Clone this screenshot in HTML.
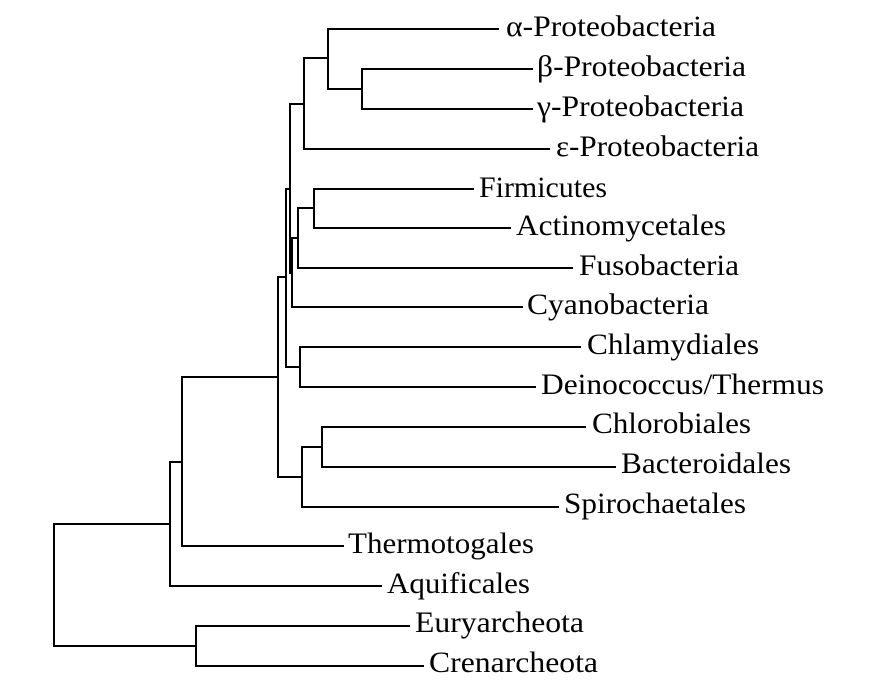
<!DOCTYPE html>
<html>
<head>
<meta charset="utf-8">
<style>
  html, body { margin: 0; padding: 0; background: #fff; }
  svg { display: block; }
  text { font-family: "Liberation Serif", "DejaVu Serif", serif; font-size: 30px; fill: #000; }
</style>
</head>
<body>
<svg width="870" height="698" viewBox="0 0 870 698" xmlns="http://www.w3.org/2000/svg">
  <g fill="none" stroke="#000" stroke-width="2" stroke-linecap="square">
    <!-- root -->
    <path d="M170 524 H54 V646 H196"/>
    <!-- archaea -->
    <path d="M409 626 H196 V666 H423"/>
    <!-- node 170 -->
    <path d="M182 462 H170 V586 H381"/>
    <!-- node 182 -->
    <path d="M278 377 H182 V546 H343"/>
    <!-- node 278 -->
    <path d="M286 277 H278 V477 H302"/>
    <!-- node 302 -->
    <path d="M322 447 H302 V507 H558"/>
    <!-- node 322 -->
    <path d="M585 427 H322 V467 H615"/>
    <!-- node 286 -->
    <path d="M290 189 H286 V367 H300"/>
    <!-- node 300 -->
    <path d="M580 347 H300 V387 H535"/>
    <!-- node 290 -->
    <path d="M304 104 H290 V273 H292"/>
    <!-- node 292 -->
    <path d="M298 238 H292 V307 H522"/>
    <!-- node 298 -->
    <path d="M314 208 H298 V268 H572"/>
    <!-- node 314 -->
    <path d="M473 189 H314 V228 H510"/>
    <!-- node 304 -->
    <path d="M328 58 H304 V149 H549"/>
    <!-- node 328 -->
    <path d="M498 29 H328 V89 H362"/>
    <!-- node 362 -->
    <path d="M532 69 H362 V109 H532"/>
  </g>
  <g>
    <text x="506" y="36" textLength="210" lengthAdjust="spacingAndGlyphs">α-Proteobacteria</text>
    <text x="537" y="76" textLength="209" lengthAdjust="spacingAndGlyphs">β-Proteobacteria</text>
    <text x="537" y="116" textLength="207" lengthAdjust="spacingAndGlyphs">γ-Proteobacteria</text>
    <text x="556" y="156" textLength="203" lengthAdjust="spacingAndGlyphs">ε-Proteobacteria</text>
    <text x="479" y="197" textLength="128" lengthAdjust="spacingAndGlyphs">Firmicutes</text>
    <text x="516" y="235" textLength="210" lengthAdjust="spacingAndGlyphs">Actinomycetales</text>
    <text x="579" y="275" textLength="160" lengthAdjust="spacingAndGlyphs">Fusobacteria</text>
    <text x="527" y="314" textLength="182" lengthAdjust="spacingAndGlyphs">Cyanobacteria</text>
    <text x="587" y="354" textLength="172" lengthAdjust="spacingAndGlyphs">Chlamydiales</text>
    <text x="541" y="394" textLength="283" lengthAdjust="spacingAndGlyphs">Deinococcus/Thermus</text>
    <text x="592" y="433" textLength="159" lengthAdjust="spacingAndGlyphs">Chlorobiales</text>
    <text x="621" y="473" textLength="170" lengthAdjust="spacingAndGlyphs">Bacteroidales</text>
    <text x="564" y="513" textLength="182" lengthAdjust="spacingAndGlyphs">Spirochaetales</text>
    <text x="348" y="553" textLength="186" lengthAdjust="spacingAndGlyphs">Thermotogales</text>
    <text x="387" y="593" textLength="143" lengthAdjust="spacingAndGlyphs">Aquificales</text>
    <text x="415" y="632" textLength="169" lengthAdjust="spacingAndGlyphs">Euryarcheota</text>
    <text x="429" y="672" textLength="169" lengthAdjust="spacingAndGlyphs">Crenarcheota</text>
  </g>
</svg>
</body>
</html>
